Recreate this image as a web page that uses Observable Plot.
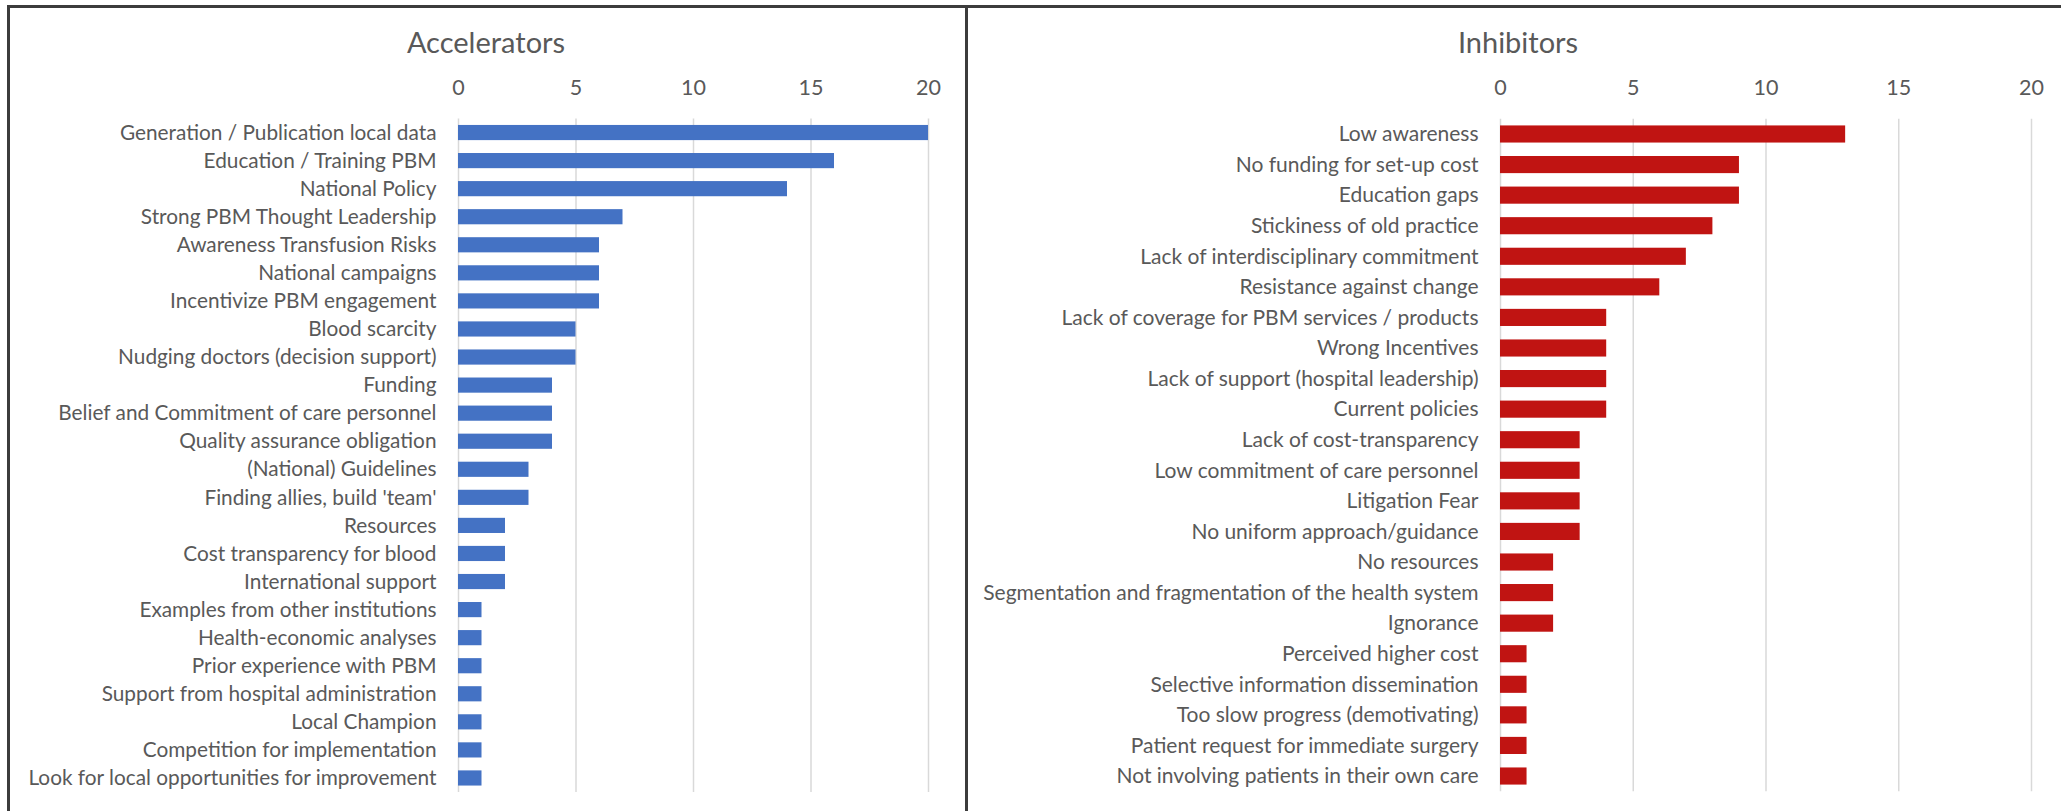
<!DOCTYPE html>
<html><head><meta charset="utf-8">
<script src="https://cdn.jsdelivr.net/npm/d3@7"></script>
<script src="https://cdn.jsdelivr.net/npm/@observablehq/plot@0.6"></script>
<style>
html,body{margin:0;padding:0;background:#fff;}
#wrap{position:relative;width:2061px;height:811px;overflow:hidden;font-family:Lato,"Open Sans",sans-serif;}
.panel{position:absolute;top:0;}
.title{position:absolute;top:41px;transform:translate(-50%,-50%);font-size:29px;color:#595959;white-space:nowrap;line-height:1;}
.frame{position:absolute;background:#3c3c3c;}
</style></head>
<body><div id="wrap"></div>
<script>
const xTicks = [0, 5, 10, 15, 20];

const accelCategories = [
  "Generation / Publication local data",
  "Education / Training PBM",
  "National Policy",
  "Strong PBM Thought Leadership",
  "Awareness Transfusion Risks",
  "National campaigns",
  "Incentivize PBM engagement",
  "Blood scarcity",
  "Nudging doctors (decision support)",
  "Funding",
  "Belief and Commitment of care personnel",
  "Quality assurance obligation",
  "(National) Guidelines",
  "Finding allies, build 'team'",
  "Resources",
  "Cost transparency for blood",
  "International support",
  "Examples from other institutions",
  "Health-economic analyses",
  "Prior experience with PBM",
  "Support from hospital administration",
  "Local Champion",
  "Competition for implementation",
  "Look for local opportunities for improvement"
];
const accelValues = [20, 16, 14, 7, 6, 6, 6, 5, 5, 4, 4, 4, 3, 3, 2, 2, 2, 1, 1, 1, 1, 1, 1, 1];

const inhibCategories = [
  "Low awareness",
  "No funding for set-up cost",
  "Education gaps",
  "Stickiness of old practice",
  "Lack of interdisciplinary commitment",
  "Resistance against change",
  "Lack of coverage for PBM services / products",
  "Wrong Incentives",
  "Lack of support (hospital leadership)",
  "Current policies",
  "Lack of cost-transparency",
  "Low commitment of care personnel",
  "Litigation Fear",
  "No uniform approach/guidance",
  "No resources",
  "Segmentation and fragmentation of the health system",
  "Ignorance",
  "Perceived higher cost",
  "Selective information dissemination",
  "Too slow progress (demotivating)",
  "Patient request for immediate surgery",
  "Not involving patients in their own care"
];
const inhibValues = [13, 9, 9, 8, 7, 6, 4, 4, 4, 4, 3, 3, 3, 3, 2, 2, 2, 1, 1, 1, 1, 1];

const titles = ["Accelerators", "Inhibitors"];

function panel(cats, vals, color, o) {
  const data = cats.map((c, i) => ({c, v: vals[i]}));
  return Plot.plot({
    width: o.width, height: 811,
    marginLeft: o.marginLeft, marginRight: o.marginRight,
    marginTop: o.marginTop, marginBottom: o.marginBottom,
    style: {fontFamily: "Lato, 'Open Sans', sans-serif", color: "#595959", background: "transparent", overflow: "visible"},
    x: {domain: [0, 20], axis: null},
    y: {domain: cats, paddingInner: o.padding, paddingOuter: o.padding / 2, round: false, axis: null},
    marks: [
      Plot.gridX(xTicks, {stroke: "#d9d9d9", strokeOpacity: 1, strokeWidth: 1.5}),
      Plot.barX(data, {x: "v", y: "c", fill: color}),
      Plot.axisX(xTicks, {anchor: "top", tickSize: 0, tickPadding: 24, fontSize: 21.5, label: null}),
      Plot.axisY({tickSize: 0, tickPadding: 22, fontSize: o.labelSize, label: null})
    ]
  });
}

const wrap = document.getElementById("wrap");

const left = panel(accelCategories, accelValues, "#4472C4",
  {width: 965, marginLeft: 458, marginRight: 37, marginTop: 118.5, marginBottom: 19, padding: 0.46, labelSize: 20.8});
left.classList.add("panel");
left.style.left = "0px";
wrap.appendChild(left);

const right = panel(inhibCategories, inhibValues, "#C01412",
  {width: 1093, marginLeft: 532, marginRight: 30, marginTop: 118.7, marginBottom: 19.7, padding: 0.44, labelSize: 21});
right.classList.add("panel");
right.style.left = "968px";
wrap.appendChild(right);

[[titles[0], 486], [titles[1], 1518]].forEach(([t, x]) => {
  const d = document.createElement("div");
  d.className = "title";
  d.textContent = t;
  d.style.left = x + "px";
  wrap.appendChild(d);
});

[
  {left: 7, top: 5, width: 2054, height: 3},
  {left: 7, top: 5, width: 3, height: 806},
  {left: 965, top: 5, width: 3, height: 806}
].forEach(f => {
  const d = document.createElement("div");
  d.className = "frame";
  Object.assign(d.style, {left: f.left + "px", top: f.top + "px", width: f.width + "px", height: f.height + "px"});
  wrap.appendChild(d);
});
</script>
</body></html>
